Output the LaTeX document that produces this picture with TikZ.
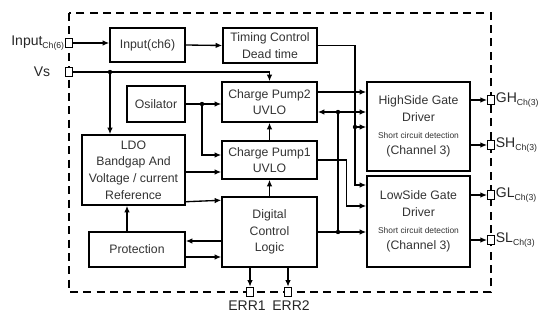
\documentclass[tikz,border=0pt]{standalone}
\usepackage{fontspec}
\setmainfont{Liberation Sans}
\usetikzlibrary{arrows.meta,calc}
\newcommand{\scdfont}{\fontsize{6.3}{9}\selectfont}
\newcommand{\padsub}[1]{\raisebox{-2pt}{\fontsize{6.5}{7}\selectfont #1}}

\begin{document}
\begin{tikzpicture}[x=0.75pt,y=0.75pt,yscale=-1,xscale=1,
	blk/.style={draw,line width=1.1pt,inner sep=0pt,align=center,text=black!80,font=\fontsize{9.2}{12.5}\selectfont},
	padbox/.style={draw,fill=white,line width=0.9pt,minimum width=5pt,minimum height=7pt,inner sep=0pt},
	arr/.style={line width=1pt,-{Latex[length=5pt,width=4.2pt]}},
	wire/.style={line width=1pt},
	padtxt/.style={font=\fontsize{10.5}{12}\selectfont,text=black!85,inner sep=0.5pt}]
		\useasboundingbox (0,0) rectangle (541,320);
		% chip outline
		\draw [line width=0.9pt,dash pattern=on 6pt off 4pt] (69,13) rectangle (491,292);
		% blocks
		\node [blk,minimum width=56.25pt,minimum height=25.5pt] (inp) at (147.5,45) {Input(ch6)};
		\node [blk,minimum width=70.5pt,minimum height=26.25pt] (timing) at (270,45.5) {Timing Control\\Dead time};
		\node [blk,minimum width=43.5pt,minimum height=27pt] (osc) at (156,104) {Osilator};
		\node [blk,minimum width=71.25pt,minimum height=30pt] (cp2) at (269.5,102) {Charge Pump2\\UVLO};
		\node [blk,minimum width=71.25pt,minimum height=28.5pt] (cp1) at (269.5,160) {Charge Pump1\\UVLO};
		\node [blk,minimum width=71.25pt,minimum height=52.5pt] (dcl) at (269.5,232) {Digital\\Control\\Logic};
		\node [blk,minimum width=77.25pt,minimum height=52.5pt] (ldo) at (133.5,170) {LDO\\Bandgap And\\Voltage / current\\Reference};
		\node [blk,minimum width=72pt,minimum height=26.25pt] (prot) at (137,249.5) {Protection};
		\node [blk,minimum width=77.25pt,minimum height=66.75pt] (hs) at (418.5,126.5) {HighSide Gate\\Driver\\{\scdfont Short circuit detection}\\(Channel 3)};
		\node [blk,minimum width=77.25pt,minimum height=68.25pt] (ls) at (418.5,221.5) {LowSide Gate\\Driver\\{\scdfont Short circuit detection}\\(Channel 3)};
		% pads
		\node [padbox] (pIn) at (69,43) {};
		\node [padbox] (pVs) at (69,72) {};
		\node [padbox] (pGH) at (491,100) {};
		\node [padbox] (pSH) at (491,145) {};
		\node [padbox] (pGL) at (491,195) {};
		\node [padbox] (pSL) at (491,240) {};
		\node [padbox] (pE1) at (250,292) {};
		\node [padbox] (pE2) at (288,292) {};
		\node [padtxt,anchor=east] (lIn) at (pIn.west) {Input\padsub{Ch(6)}};
		\node [padtxt,anchor=east] (lVs) at ($(pVs.west)+(-14,0)$) {Vs};
		\node [padtxt,anchor=west] (lGH) at (pGH.east) {GH\padsub{Ch(3)}};
		\node [padtxt,anchor=west] (lSH) at (pSH.east) {SH\padsub{Ch(3)}};
		\node [padtxt,anchor=west] (lGL) at (pGL.east) {GL\padsub{Ch(3)}};
		\node [padtxt,anchor=west] (lSL) at (pSL.east) {SL\padsub{Ch(3)}};
		\node [padtxt,anchor=north] (lE1) at ($(pE1.south)+(-3,3)$) {ERR1};
		\node [padtxt,anchor=north] (lE2) at ($(pE2.south)+(3,3)$) {ERR2};
		% junctions
		\coordinate (jVs) at (110,72);
		\coordinate (jOsc) at (202,104);
		\coordinate (jT) at (355,127);
		\coordinate (jD) at (338,232);
		\coordinate (jU) at (338,112);
		% inputs and supply
		\draw [arr] (pIn.east) -- (pIn -| inp.west);
		\draw [arr] (inp.east) -- (timing.west);
		\draw [arr] (pVs.east) -- (pVs -| cp2.north) -- (cp2.north);
		\draw [arr] (jVs) -- (jVs |- ldo.north);
		\draw [arr] (osc.east) -- (osc.east -| cp2.west);
		\draw [arr] (jOsc) |- ($(cp1.west)+(0,-5)$);
		\draw [arr] ($(ldo.east)+(0,2)$) -- ($(cp1.west)+(0,12)$);
		\draw [arr] ($(ldo.south east)+(0,-4)$) -- ($(dcl.north west)+(0,4)$);
		\draw [arr] ($(prot.north)+(-10,0)$) -- ($(ldo.south)+(-6.5,0)$);
		\draw [arr] ($(dcl.west)+(0,9)$) -- ($(prot.east)+(0,-8.5)$);
		\draw [arr] ($(prot.east)+(0,7.5)$) -- ($(dcl.west)+(0,25)$);
		\draw [arr] (dcl.north) -- (cp1.south);
		\draw [arr] (cp1.north) -- (cp2.south);
		\draw [arr] (dcl.south -| pE1) -- (pE1.north);
		\draw [arr] (dcl.south -| pE2) -- (pE2.north);
		% to the gate drivers
		\draw [arr] (timing.east) -| (jT) |- ($(ls.west)+(0,-36.5)$);
		\draw [arr] (jT) -- (jT -| hs.west);
		\draw [arr] ($(cp2.east)+(0,-10)$) -- ($(hs.west)+(0,-34.5)$);
		\draw [wire] (jD) -- (jU);
		\draw [arr] (jU) -- (jU -| cp2.east);
		\draw [arr] (jU) -- (jU -| hs.west);
		\draw [arr] (dcl.east) -- (dcl.east -| ls.west);
		\draw [arr] (cp1.east) -- ++(29,0) |- ($(ls.west)+(0,-15.5)$);
		% outputs
		\draw [arr] (hs.east |- pGH) -- (pGH.west);
		\draw [arr] (hs.east |- pSH) -- (pSH.west);
		\draw [arr] (ls.east |- pGL) -- (pGL.west);
		\draw [arr] (ls.east |- pSL) -- (pSL.west);
		\foreach \j in {jVs,jOsc,jT,jD,jU}
			\fill (\j) circle (2.2);
	\end{tikzpicture}
\end{document}
